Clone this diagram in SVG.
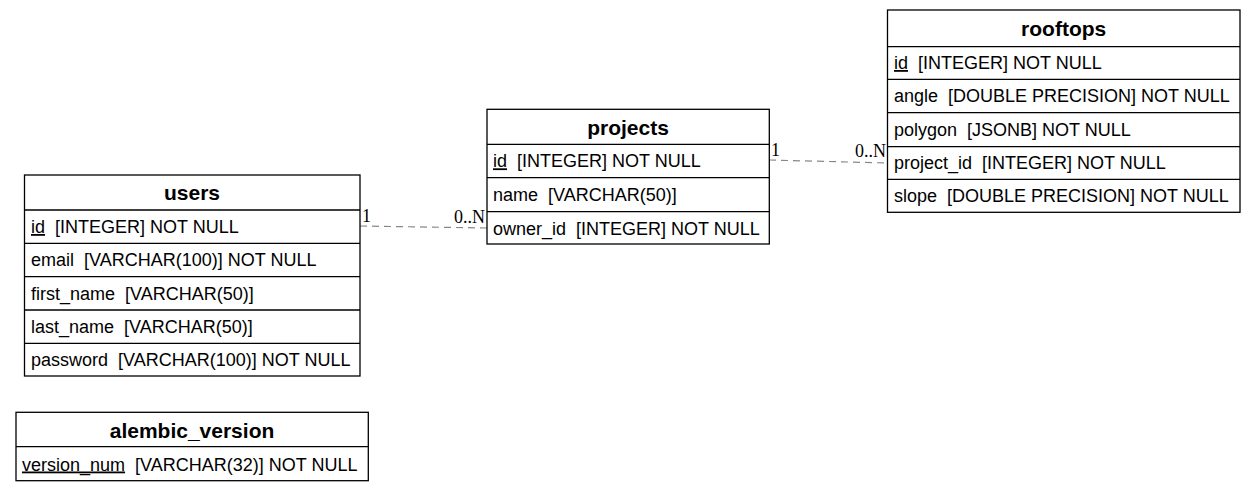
<svg xmlns="http://www.w3.org/2000/svg" width="1256" height="491" viewBox="0 0 1256 491">
<style>
.box{fill:#fff;stroke:#000;stroke-width:1.3}
.sep{stroke:#000;stroke-width:1.3}
.hdr{font-family:"Liberation Sans",Arial,sans-serif;font-size:21px;font-weight:bold;text-anchor:middle;fill:#000}
.row{font-family:"Liberation Sans",Arial,sans-serif;font-size:18px;fill:#000}
.pk{text-decoration:underline}
.edge{stroke:#888;stroke-width:1.2;stroke-dasharray:7,5;fill:none}
.lbl{font-family:"Liberation Serif","Times New Roman",serif;font-size:18px;fill:#000}
</style>
<rect width="1256" height="491" fill="#fff"/>
<g id="connectors">
<path class="edge" d="M360,226 L487,228"/>
<text class="lbl" x="362" y="222">1</text>
<text class="lbl" x="485" y="223" text-anchor="end">0..N</text>
<path class="edge" d="M769,160 L887,163"/>
<text class="lbl" x="771" y="156">1</text>
<text class="lbl" x="886" y="157" text-anchor="end">0..N</text>
</g>
<g id="users">
<rect class="box" x="24.5" y="175" width="335.5" height="201"/>
<line class="sep" x1="24.5" y1="210" x2="360" y2="210"/>
<line class="sep" x1="24.5" y1="243.3" x2="360" y2="243.3"/>
<line class="sep" x1="24.5" y1="276.7" x2="360" y2="276.7"/>
<line class="sep" x1="24.5" y1="310" x2="360" y2="310"/>
<line class="sep" x1="24.5" y1="343.3" x2="360" y2="343.3"/>
<text class="hdr" x="192" y="200">users</text>
<text class="row" x="31" y="233" xml:space="preserve"><tspan class="pk">id</tspan>  [INTEGER] NOT NULL</text>
<text class="row" x="31" y="266.3" xml:space="preserve">email  [VARCHAR(100)] NOT NULL</text>
<text class="row" x="31" y="299.7" xml:space="preserve">first_name  [VARCHAR(50)]</text>
<text class="row" x="31" y="333" xml:space="preserve">last_name  [VARCHAR(50)]</text>
<text class="row" x="31" y="366.3" xml:space="preserve">password  [VARCHAR(100)] NOT NULL</text>
</g>
<g id="alembic_version">
<rect class="box" x="16" y="412.3" width="352.3" height="68.4"/>
<line class="sep" x1="16" y1="446.7" x2="368.3" y2="446.7"/>
<text class="hdr" x="192" y="437.5">alembic_version</text>
<text class="row" x="22" y="470.5" xml:space="preserve"><tspan class="pk">version_num</tspan>  [VARCHAR(32)] NOT NULL</text>
</g>
<g id="projects">
<rect class="box" x="487" y="109.3" width="282.3" height="134.7"/>
<line class="sep" x1="487" y1="144.3" x2="769.3" y2="144.3"/>
<line class="sep" x1="487" y1="177.7" x2="769.3" y2="177.7"/>
<line class="sep" x1="487" y1="211.7" x2="769.3" y2="211.7"/>
<text class="hdr" x="628" y="134.5">projects</text>
<text class="row" x="493" y="167.3" xml:space="preserve"><tspan class="pk">id</tspan>  [INTEGER] NOT NULL</text>
<text class="row" x="493" y="201" xml:space="preserve">name  [VARCHAR(50)]</text>
<text class="row" x="493" y="234.5" xml:space="preserve">owner_id  [INTEGER] NOT NULL</text>
</g>
<g id="rooftops">
<rect class="box" x="887.5" y="10" width="352.5" height="202.3"/>
<line class="sep" x1="887.5" y1="46.7" x2="1240" y2="46.7"/>
<line class="sep" x1="887.5" y1="79.3" x2="1240" y2="79.3"/>
<line class="sep" x1="887.5" y1="112.7" x2="1240" y2="112.7"/>
<line class="sep" x1="887.5" y1="146.7" x2="1240" y2="146.7"/>
<line class="sep" x1="887.5" y1="179.3" x2="1240" y2="179.3"/>
<text class="hdr" x="1063.7" y="36">rooftops</text>
<text class="row" x="894" y="69" xml:space="preserve"><tspan class="pk">id</tspan>  [INTEGER] NOT NULL</text>
<text class="row" x="894" y="102" xml:space="preserve">angle  [DOUBLE PRECISION] NOT NULL</text>
<text class="row" x="894" y="135.5" xml:space="preserve">polygon  [JSONB] NOT NULL</text>
<text class="row" x="894" y="169" xml:space="preserve">project_id  [INTEGER] NOT NULL</text>
<text class="row" x="894" y="202" xml:space="preserve">slope  [DOUBLE PRECISION] NOT NULL</text>
</g>
</svg>
